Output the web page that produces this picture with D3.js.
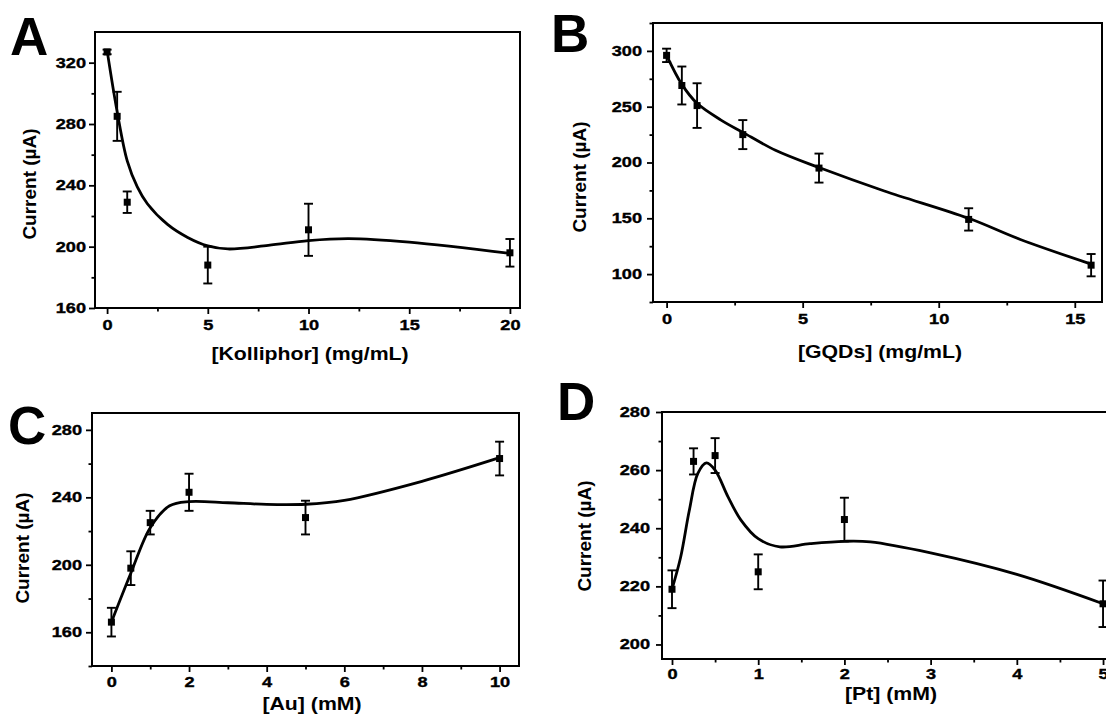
<!DOCTYPE html>
<html>
<head>
<meta charset="utf-8">
<script src="https://cdn.jsdelivr.net/npm/d3@7"></script>
<style>
  body { margin: 0; background: #fff; }
  svg { display: block; }
  text { font-family: "Liberation Sans", Arial, sans-serif; font-weight: bold; fill: #000; }
</style>
</head>
<body>
<script>
// ---- data ----
// A: Kolliphor
const kolliphorConc = [0, 0.5, 1, 5, 10, 20];
const kolliphorCurrent = [327, 285, 229, 188, 211, 196];
const kolliphorErr = [1.5, 16, 7, 12, 17, 9];
const kolliphorFitX = [0, 0.5, 1, 1.5, 2, 3, 4, 5, 6, 8, 10, 12, 15, 20];
const kolliphorFitY = [328, 288, 256, 239, 228, 214.5, 206, 200.5, 198.5, 200.8, 204, 205.3, 203, 195.6];

// B: GQDs
const gqdConc = [0, 0.56, 1.12, 2.8, 5.6, 11.1, 15.6];
const gqdCurrent = [296, 269, 251, 225, 195, 149, 108];
const gqdErr = [6, 17, 20, 13, 13, 10, 10];
const gqdFitX = [0, 0.56, 1.12, 2, 2.8, 4, 5.6, 8, 11.1, 13, 15.6];
const gqdFitY = [296, 270, 253, 238, 227, 211, 195.5, 174.5, 150, 131, 109];

// C: Au
const auConc = [0, 0.5, 1, 2, 5, 10];
const auCurrent = [166, 198, 225, 243, 228, 263];
const auErr = [8.5, 10, 7, 11, 10, 10];
const auFitX = [0, 0.5, 1, 1.5, 2, 3, 4, 5, 6, 8, 10];
const auFitY = [166, 195, 222, 235, 237.5, 236.8, 235.8, 235.9, 238.2, 249.5, 263.5];

// D: Pt
const ptConc = [0, 0.25, 0.5, 1, 2, 5];
const ptCurrent = [219, 263, 265, 225, 243, 214];
const ptErr = [6.5, 4.5, 6, 6, 7.5, 8];
const ptFitX = [0, 0.1, 0.2, 0.3, 0.4, 0.5, 0.65, 0.8, 1, 1.25, 1.6, 2, 2.3, 3, 4, 5];
const ptFitY = [219, 230, 246, 258.9, 262.5, 260, 250.8, 242.8, 236.4, 233.6, 234.7, 235.5, 235.3, 231.5, 224.1, 214];

// ticks
const aXTicks = [0, 5, 10, 15, 20], aXMinor = d3.range(2.5, 20, 5);
const aYTicks = [160, 200, 240, 280, 320], aYMinor = d3.range(180, 340, 40);
const bXTicks = [0, 5, 10, 15], bXMinor = d3.range(2.5, 16, 5);
const bYTicks = [100, 150, 200, 250, 300], bYMinor = d3.range(75, 326, 50);
const cXTicks = [0, 2, 4, 6, 8, 10], cXMinor = d3.range(1, 10.5, 2);
const cYTicks = [160, 200, 240, 280], cYMinor = [140, 180, 220, 260];
const dXTicks = [0, 1, 2, 3, 4, 5], dXMinor = d3.range(0.5, 5, 1);
const dYTicks = [200, 220, 240, 260, 280], dYMinor = [210, 230, 250, 270];

const W = 1106, H = 717;
const svg = d3.select('body').append('svg')
  .attr('width', W)
  .attr('height', H);

const TICK_SX = 1.3;   // tick labels in the figure are stretched wide
const TITLE_SX = 1.15;

function drawPanel(p) {
  var x = d3.scaleLinear().domain(p.xDomain).range([p.left, p.right]);
  var y = d3.scaleLinear().domain(p.yDomain).range([p.bottom, p.top]);
  var g = svg.append('g');

  // minor ticks
  g.append('g')
    .attr('transform', `translate(0,${p.bottom})`)
    .call(d3.axisBottom(x).tickValues(p.xMinor).tickSize(3.5).tickFormat(''))
    .call(s => s.select('.domain').remove());
  g.append('g')
    .attr('transform', `translate(${p.left},0)`)
    .call(d3.axisLeft(y).tickValues(p.yMinor).tickSize(3.5).tickFormat(''))
    .call(s => s.select('.domain').remove());

  // major ticks + labels
  var xa = g.append('g')
    .attr('transform', `translate(0,${p.bottom})`)
    .call(d3.axisBottom(x).tickValues(p.xTicks).tickSize(6).tickFormat(d3.format('d')));
  xa.select('.domain').remove();
  xa.selectAll('text')
    .attr('y', p.xLabelGap)
    .attr('transform', `scale(${TICK_SX},1)`);

  var ya = g.append('g')
    .attr('transform', `translate(${p.left},0)`)
    .call(d3.axisLeft(y).tickValues(p.yTicks).tickSize(6).tickFormat(d3.format('d')));
  ya.select('.domain').remove();
  ya.selectAll('text')
    .attr('x', -p.yLabelGap / TICK_SX)
    .attr('transform', `scale(${TICK_SX},1)`);

  g.selectAll('.tick line').attr('stroke', '#000').attr('stroke-width', 1.8);
  g.selectAll('.tick text')
    .attr('fill', '#000')
    .attr('font-family', null)
    .attr('font-size', null)
    .style('font-size', '14px')
    .attr('stroke', '#000')
    .attr('stroke-width', 0.35);

  // frame
  g.append('rect')
    .attr('x', p.left).attr('y', p.top)
    .attr('width', p.right - p.left).attr('height', p.bottom - p.top)
    .attr('fill', 'none').attr('stroke', '#000').attr('stroke-width', 2);

  // fitted curve
  var line = d3.line()
    .x(d => x(d[0]))
    .y(d => y(d[1]))
    .curve(d3.curveCatmullRom.alpha(0.5));
  g.append('path')
    .datum(p.fitX.map((v, i) => [v, p.fitY[i]]))
    .attr('d', line)
    .attr('fill', 'none')
    .attr('stroke', '#000')
    .attr('stroke-width', 2.8)
    .attr('stroke-linejoin', 'round');

  // error bars + markers
  var pts = p.xs.map((v, i) => ({ x: v, y: p.ys[i], e: p.errs[i] }));
  var eb = g.selectAll('g.eb').data(pts).enter().append('g').attr('class', 'eb');
  eb.append('line')
    .attr('x1', d => x(d.x)).attr('x2', d => x(d.x))
    .attr('y1', d => y(d.y - d.e)).attr('y2', d => y(d.y + d.e));
  eb.append('line')
    .attr('x1', d => x(d.x) - 4.5).attr('x2', d => x(d.x) + 4.5)
    .attr('y1', d => y(d.y + d.e)).attr('y2', d => y(d.y + d.e));
  eb.append('line')
    .attr('x1', d => x(d.x) - 4.5).attr('x2', d => x(d.x) + 4.5)
    .attr('y1', d => y(d.y - d.e)).attr('y2', d => y(d.y - d.e));
  eb.selectAll('line').attr('stroke', '#000').attr('stroke-width', 1.9);
  eb.append('rect')
    .attr('x', d => x(d.x) - 3.5).attr('y', d => y(d.y) - 3.5)
    .attr('width', 7).attr('height', 7)
    .attr('fill', '#000');

  // titles
  g.append('text')
    .attr('transform', `translate(${p.xTitle[0]},${p.xTitle[1]}) scale(${TITLE_SX},1)`)
    .attr('text-anchor', 'middle')
    .style('font-size', '18.5px')
    .text(p.xLabel);
  g.append('text')
    .attr('transform', `translate(${p.yTitle[0]},${p.yTitle[1]}) rotate(-90)`)
    .attr('text-anchor', 'middle')
    .style('font-size', '19px')
    .text('Current (\u00b5A)');
  g.append('text')
    .attr('x', p.letter[0]).attr('y', p.letter[1])
    .style('font-size', '53px')
    .text(p.name);
}

drawPanel({
  name: 'A', letter: [10, 55],
  left: 95, right: 520, top: 32, bottom: 308,
  xDomain: [-0.6, 20.5], yDomain: [160, 340],
  xTicks: aXTicks, xMinor: aXMinor, yTicks: aYTicks, yMinor: aYMinor,
  xLabelGap: 12, yLabelGap: 9,
  xs: kolliphorConc, ys: kolliphorCurrent, errs: kolliphorErr,
  fitX: kolliphorFitX, fitY: kolliphorFitY,
  xLabel: '[Kolliphor] (mg/mL)', xTitle: [310, 360], yTitle: [36, 184]
});

drawPanel({
  name: 'B', letter: [551, 52],
  left: 653, right: 1102, top: 23, bottom: 302,
  xDomain: [-0.5, 16], yDomain: [75, 325],
  xTicks: bXTicks, xMinor: bXMinor, yTicks: bYTicks, yMinor: bYMinor,
  xLabelGap: 12, yLabelGap: 11,
  xs: gqdConc, ys: gqdCurrent, errs: gqdErr,
  fitX: gqdFitX, fitY: gqdFitY,
  xLabel: '[GQDs] (mg/mL)', xTitle: [880, 358], yTitle: [586, 177]
});

drawPanel({
  name: 'C', letter: [8, 444],
  left: 92, right: 519, top: 413, bottom: 666,
  xDomain: [-0.5, 10.5], yDomain: [140, 290],
  xTicks: cXTicks, xMinor: cXMinor, yTicks: cYTicks, yMinor: cYMinor,
  xLabelGap: 11, yLabelGap: 10,
  xs: auConc, ys: auCurrent, errs: auErr,
  fitX: auFitX, fitY: auFitY,
  xLabel: '[Au] (mM)', xTitle: [312, 710], yTitle: [29, 548]
});

drawPanel({
  name: 'D', letter: [557, 420],
  left: 662, right: 1112, top: 412, bottom: 659,
  xDomain: [-0.116, 5.104], yDomain: [195, 280],
  xTicks: dXTicks, xMinor: dXMinor, yTicks: dYTicks, yMinor: dYMinor,
  xLabelGap: 10, yLabelGap: 12,
  xs: ptConc, ys: ptCurrent, errs: ptErr,
  fitX: ptFitX, fitY: ptFitY,
  xLabel: '[Pt] (mM)', xTitle: [891, 700], yTitle: [591, 536]
});
</script>
</body>
</html>
